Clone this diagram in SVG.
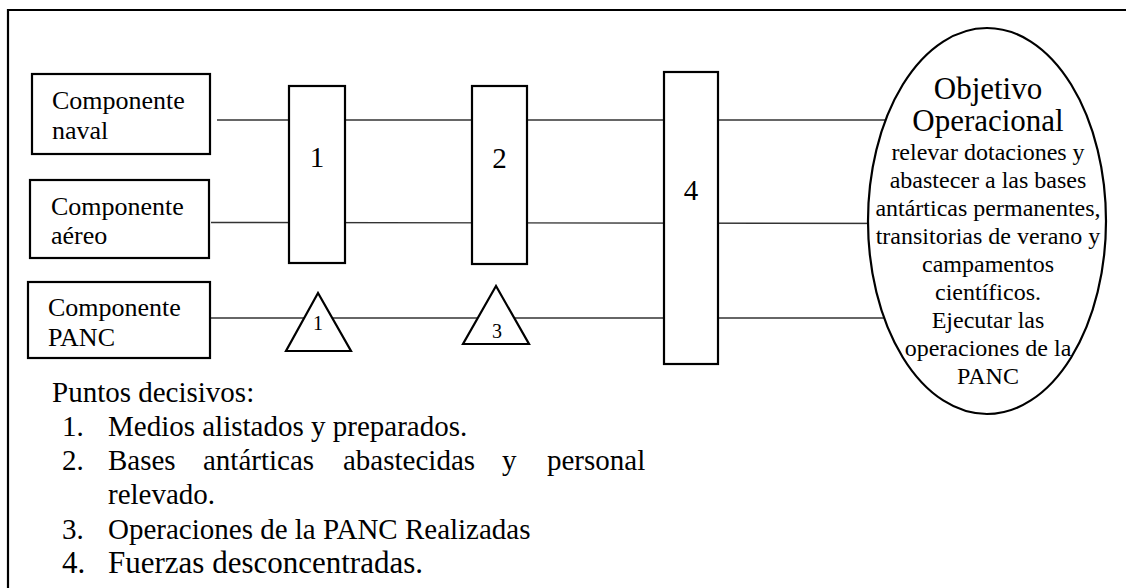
<svg xmlns="http://www.w3.org/2000/svg" width="1126" height="588" viewBox="0 0 1126 588">
<style>
text{font-family:"Liberation Serif","Times New Roman",serif;fill:#000}
.frame{stroke:#000;stroke-width:2.2;fill:none}
.box{fill:#fff;stroke:#000;stroke-width:2.2}
.conn{stroke:#333;stroke-width:1.4;fill:none}
.lbl{font-size:26px}
.dig{font-size:29px;text-anchor:middle}
.tdig{font-size:20px;text-anchor:middle}
.big{font-size:31px;text-anchor:middle}
.sm{font-size:24px;text-anchor:middle}
.pts{font-size:29px}
.pts4{font-size:31px}
</style>
<rect width="1126" height="588" fill="#fff"/>
<g id="frame">
<path class="frame" d="M8,588 V10 H1126"/>
</g>
<g id="connectors">
<line class="conn" x1="217" y1="120" x2="930" y2="120"/>
<line class="conn" x1="211" y1="222.5" x2="930" y2="223.5"/>
<line class="conn" x1="210" y1="318" x2="930" y2="318"/>
</g>
<g id="comp-naval">
<rect class="box" x="32" y="74" width="178" height="80"/>
<text class="lbl" x="52" y="109">Componente</text>
<text class="lbl" x="52" y="139">naval</text>
</g>
<g id="comp-aereo">
<rect class="box" x="30" y="180" width="179" height="78"/>
<text class="lbl" x="51" y="215">Componente</text>
<text class="lbl" x="51" y="244">aéreo</text>
</g>
<g id="comp-panc">
<rect class="box" x="28" y="282" width="182" height="76"/>
<text class="lbl" x="48" y="316">Componente</text>
<text class="lbl" x="48" y="346">PANC</text>
</g>
<g id="dp1">
<rect class="box" x="289" y="86" width="56" height="177"/>
<text class="dig" x="317" y="167">1</text>
</g>
<g id="dp2">
<rect class="box" x="472" y="86" width="55" height="178"/>
<text class="dig" x="499.5" y="168">2</text>
</g>
<g id="dp4">
<rect class="box" x="664" y="72" width="54" height="292"/>
<text class="dig" x="691" y="200">4</text>
</g>
<g id="tri1">
<polygon class="box" points="318,293 286,351 351,351"/>
<text class="tdig" x="318" y="330">1</text>
</g>
<g id="tri3">
<polygon class="box" points="496,286 463,344 529,344"/>
<text class="tdig" x="497" y="338">3</text>
</g>
<g id="objetivo">
<ellipse class="box" cx="987" cy="221" rx="119" ry="193"/>
<text class="big" x="988" y="99">Objetivo</text>
<text class="big" x="988" y="131">Operacional</text>
<text class="sm" x="988" y="160">relevar dotaciones y</text>
<text class="sm" x="988" y="188">abastecer a las bases</text>
<text class="sm" x="988" y="216">antárticas permanentes,</text>
<text class="sm" x="988" y="244">transitorias de verano y</text>
<text class="sm" x="988" y="272">campamentos</text>
<text class="sm" x="988" y="300">científicos.</text>
<text class="sm" x="988" y="328">Ejecutar las</text>
<text class="sm" x="988" y="356">operaciones de la</text>
<text class="sm" x="988" y="384">PANC</text>
</g>
<g id="puntos">
<text class="pts" x="52" y="402">Puntos decisivos:</text>
<text class="pts" x="62" y="436">1.</text>
<text class="pts" x="108" y="436">Medios alistados y preparados.</text>
<text class="pts" x="62" y="470">2.</text>
<text class="pts" y="470"><tspan x="108">Bases</tspan><tspan x="203">antárticas</tspan><tspan x="343">abastecidas</tspan><tspan x="502">y</tspan><tspan x="547">personal</tspan></text>
<text class="pts" x="108" y="504">relevado.</text>
<text class="pts" x="62" y="539">3.</text>
<text class="pts" x="108" y="539">Operaciones de la PANC Realizadas</text>
<text class="pts4" x="62" y="573">4.</text>
<text class="pts4" x="108" y="573">Fuerzas desconcentradas.</text>
</g>
</svg>
